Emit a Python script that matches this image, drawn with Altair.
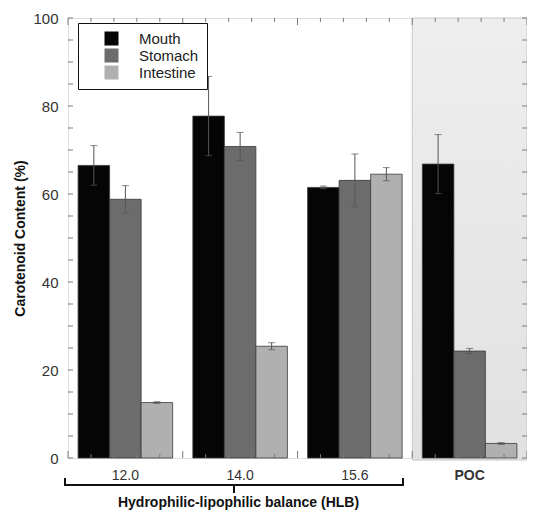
import altair as alt
import pandas as pd

groups = ["12.0", "14.0", "15.6", "POC"]
series = ["Mouth", "Stomach", "Intestine"]
mouth = [66.5, 77.7, 61.5, 66.8]
mouth_sd = [4.5, 9.0, 0.3, 6.7]
stomach = [58.8, 70.8, 63.1, 24.3]
stomach_sd = [3.1, 3.2, 6.0, 0.6]
intestine = [12.6, 25.4, 64.5, 3.3]
intestine_sd = [0.2, 0.8, 1.5, 0.2]
colors = ["#050505", "#6c6c6c", "#b0b0b0"]
y_ticks = list(range(0, 101, 20))
y_minor = list(range(0, 101, 5))
x_minor = list(range(0, 21))

rows = []
for s, vals, sds in [("Mouth", mouth, mouth_sd), ("Stomach", stomach, stomach_sd),
                     ("Intestine", intestine, intestine_sd)]:
    for g, v, sd in zip(groups, vals, sds):
        rows.append({"group": g, "series": s, "value": v, "lo": v - sd, "hi": v + sd})
df = pd.DataFrame(rows)

W, H = 459, 440
FONT = "Liberation Sans"
ERR = "#555555"
TICK = "#7a7a7a"

xband = alt.Scale(domain=groups, paddingInner=0.176, paddingOuter=0.088)
xoff = alt.XOffset("series:N", sort=series, scale=alt.Scale(domain=series))
yscale = alt.Scale(domain=[0, 100], nice=False)

dec_x = alt.Scale(domain=[0, 20], nice=False, zero=False)

# shaded POC region
shade_df = pd.DataFrame({"a": [15], "b": [20]})
shade = alt.Chart(shade_df).mark_rect(
    fill=alt.Gradient(gradient="linear", x1=0, x2=0, y1=0, y2=1,
                      stops=[alt.GradientStop(color="#eeeeee", offset=0),
                             alt.GradientStop(color="#e1e1e1", offset=1)]),
    stroke="#c8c8c8", strokeWidth=1
).encode(
    x=alt.X("a:Q", scale=dec_x, axis=None),
    x2="b:Q",
    y=alt.value(0),
    y2=alt.value(H + 2),
)

bars = alt.Chart(df).mark_bar(stroke="#3a3a3a", strokeWidth=0.8).encode(
    x=alt.X("group:N", scale=xband, sort=groups,
            axis=alt.Axis(title="Hydrophilic-lipophilic balance (HLB)", labelAngle=0,
                          labelFontSize=14, labelColor="#333", labelPadding=10,
                          labelFontWeight=alt.condition("datum.value == 'POC'",
                                                        alt.value("bold"), alt.value("normal")),
                          ticks=False, domain=False, grid=False,
                          titleFontSize=14, titleFontWeight="bold", titleColor="#111",
                          titleX=170, titleY=37, titleBaseline="top")),
    xOffset=xoff,
    y=alt.Y("value:Q", scale=yscale,
            axis=alt.Axis(title="Carotenoid Content (%)", values=y_ticks, ticks=False,
                          domain=False, grid=False, labelFontSize=15, labelColor="#333",
                          labelPadding=10, titleFontSize=14, titleFontWeight="bold",
                          titleColor="#111", titleX=-48, titleY=H / 2,
                          titleBaseline="middle")),
    color=alt.Color("series:N", sort=series,
                    scale=alt.Scale(domain=series, range=colors),
                    legend=alt.Legend(title=None, orient="none", legendX=10, legendY=5,
                                      symbolType="square", symbolSize=196,
                                      symbolStrokeWidth=0, labelFontSize=15,
                                      labelColor="#222", labelOffset=20, symbolOffset=18,
                                      padding=8, rowPadding=1, strokeColor="#111",
                                      fillColor="white")),
)

err_rule = alt.Chart(df).mark_rule(color=ERR, strokeWidth=1).encode(
    x=alt.X("group:N", scale=xband, sort=groups, axis=None),
    xOffset=xoff,
    y=alt.Y("lo:Q", scale=yscale),
    y2="hi:Q",
)
err_hi = alt.Chart(df).mark_tick(color=ERR, thickness=1, size=7).encode(
    x=alt.X("group:N", scale=xband, sort=groups, axis=None),
    xOffset=xoff,
    y=alt.Y("hi:Q", scale=yscale),
)
err_lo = alt.Chart(df).mark_tick(color=ERR, thickness=1, size=7).encode(
    x=alt.X("group:N", scale=xband, sort=groups, axis=None),
    xOffset=xoff,
    y=alt.Y("lo:Q", scale=yscale),
)

ydf = pd.DataFrame({"v": y_minor})
yt_left = alt.Chart(ydf).mark_rule(color=TICK, strokeWidth=1).encode(
    y=alt.Y("v:Q", scale=yscale), x=alt.value(0), x2=alt.value(5))
yt_right = alt.Chart(ydf).mark_rule(color=TICK, strokeWidth=1).encode(
    y=alt.Y("v:Q", scale=yscale), x=alt.value(W - 5), x2=alt.value(W))

xdf = pd.DataFrame({"t": x_minor})
xt_top_minor = alt.Chart(xdf).transform_filter("datum.t % 5 != 0").mark_rule(
    color=TICK, strokeWidth=1).encode(
    x=alt.X("t:Q", scale=dec_x, axis=None), y=alt.value(0), y2=alt.value(4))
xt_top_major = alt.Chart(xdf).transform_filter("datum.t % 5 == 0").mark_rule(
    color=TICK, strokeWidth=1).encode(
    x=alt.X("t:Q", scale=dec_x, axis=None), y=alt.value(0), y2=alt.value(7))
xt_bot_minor = alt.Chart(xdf).transform_filter("datum.t % 5 != 0").mark_rule(
    color=TICK, strokeWidth=1).encode(
    x=alt.X("t:Q", scale=dec_x, axis=None), y=alt.value(H - 4), y2=alt.value(H))
xt_bot_major = alt.Chart(xdf).transform_filter("datum.t % 5 == 0").mark_rule(
    color=TICK, strokeWidth=1).encode(
    x=alt.X("t:Q", scale=dec_x, axis=None), y=alt.value(H - 7), y2=alt.value(H))

# bracket under HLB groups
BY = H + 27
bdf = pd.DataFrame({"k": [0]})
br_h = alt.Chart(bdf).mark_rule(color="#111", strokeWidth=2).encode(
    x=alt.value(-3), x2=alt.value(335), y=alt.value(BY))
br_l = alt.Chart(bdf).mark_rule(color="#111", strokeWidth=2).encode(
    x=alt.value(-3), y=alt.value(BY - 7), y2=alt.value(BY + 1))
br_r = alt.Chart(bdf).mark_rule(color="#111", strokeWidth=2).encode(
    x=alt.value(335), y=alt.value(BY - 7), y2=alt.value(BY + 1))
br_m = alt.Chart(bdf).mark_rule(color="#111", strokeWidth=2).encode(
    x=alt.value(166), y=alt.value(BY), y2=alt.value(BY + 8))

chart = alt.layer(
    shade, bars, err_rule, err_hi, err_lo, yt_left, yt_right,
    xt_top_minor, xt_top_major, xt_bot_minor, xt_bot_major,
    br_h, br_l, br_r, br_m
).resolve_scale(x="independent").properties(
    width=W, height=H,
    autosize=alt.AutoSizeParams(type="none"),
    padding={"left": 60, "top": 10, "right": 0, "bottom": 53},
).configure_view(stroke="#8a8a8a", strokeWidth=1).configure(font=FONT)

chart.save("out.html", embed_options={"renderer": "svg", "actions": False})
